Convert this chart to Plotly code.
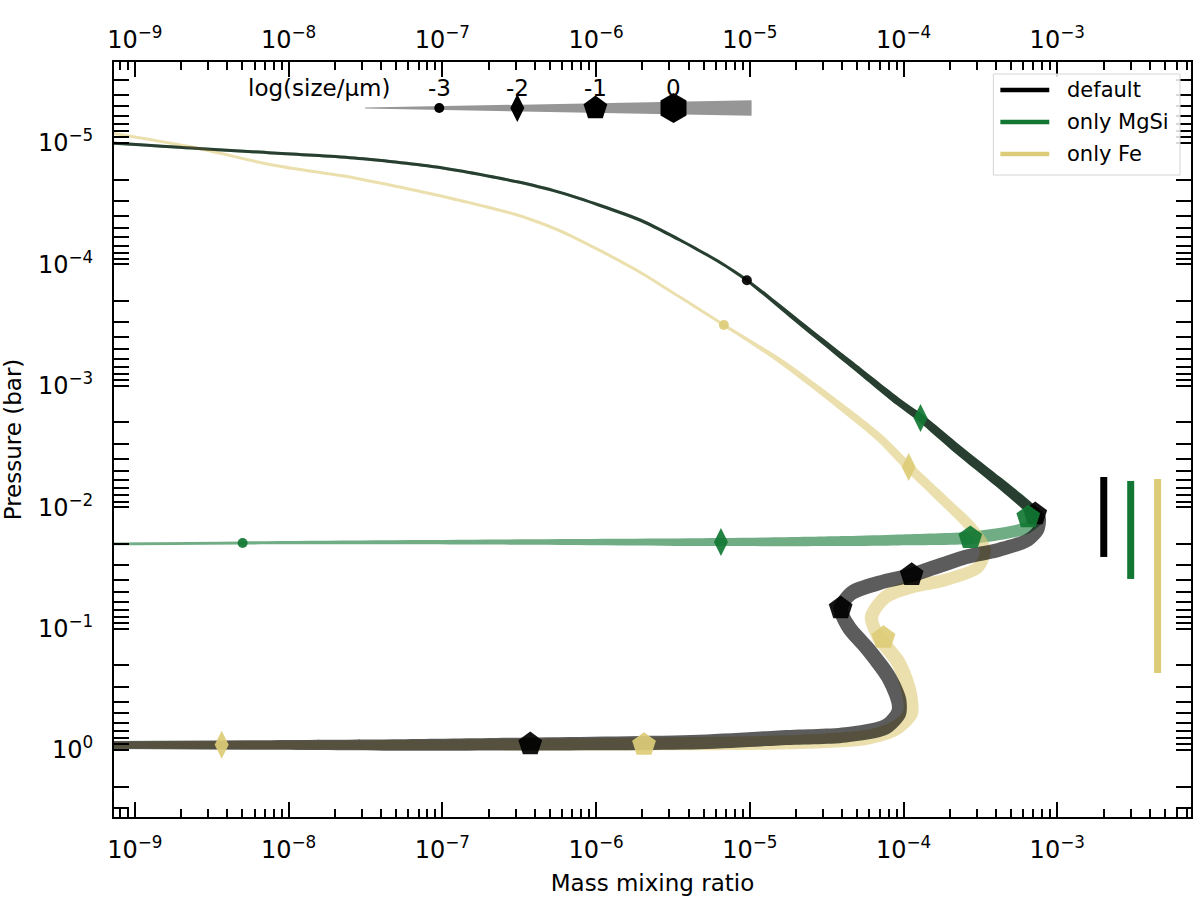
import math
import plotly.graph_objects as go

# Paul Tol muted colours
BLACK = "#000000"
GREEN = "#117733"
SAND = "#DDCC77"
FONT = "DejaVu Sans"

# ---- data: mass mixing ratio, pressure (bar), log10(size/um)
# upper branch, shared by "default" and "only MgSi" (the two overlap there)
UPPER_X = [6.0e-10, 2.34e-9, 7.87e-9, 2.68e-8, 9.14e-8, 3.07e-7, 5.66e-7, 1.04e-6,
           1.93e-6, 3.51e-6, 6.49e-6, 9.57e-6, 2.08e-5, 4.40e-5, 9.29e-5, 1.29e-4,
           2.28e-4, 4.14e-4, 6.48e-4]
UPPER_P = [9.9e-6, 1.10e-5, 1.21e-5, 1.33e-5, 1.58e-5, 2.09e-5, 2.53e-5, 3.24e-5,
           4.31e-5, 6.30e-5, 9.73e-5, 1.35e-4, 2.98e-4, 6.37e-4, 1.36e-3, 1.84e-3,
           3.38e-3, 6.20e-3, 9.95e-3]
UPPER_S = [-4.0, -4.0, -3.9, -3.85, -3.8, -3.7, -3.6, -3.5,
           -3.4, -3.3, -3.15, -3.0, -2.7, -2.45, -2.15, -2.0,
           -1.75, -1.6, -1.45]

DEFAULT_LOWER_X = [7.76e-4, 7.53e-4, 6.48e-4, 4.14e-4, 2.53e-4, 1.69e-4, 1.13e-4, 6.89e-5,
                   4.59e-5, 3.90e-5, 4.40e-5, 5.93e-5, 8.00e-5, 9.29e-5, 9.29e-5, 7.64e-5,
                   4.20e-5, 1.54e-5, 4.67e-6, 3.73e-7, 5.26e-8, 5.58e-9, 6.0e-10]
DEFAULT_LOWER_P = [1.23e-2, 1.54e-2, 1.86e-2, 2.25e-2, 2.57e-2, 3.05e-2, 3.61e-2, 4.21e-2,
                   5.09e-2, 6.77e-2, 9.70e-2, 0.150, 0.251, 0.388, 0.495, 0.646,
                   0.752, 0.796, 0.859, 0.893, 0.910, 0.910, 0.910]
DEFAULT_LOWER_S = [-1.35, -1.2, -1.0, -0.8, -0.7, -0.65, -0.7, -0.7,
                   -0.7, -0.7, -0.65, -0.6, -0.55, -0.5, -0.5, -0.5,
                   -0.55, -0.6, -0.7, -1.0, -1.3, -1.7, -2.0]

MGSI_LOWER_X = [7.53e-4, 6.48e-4, 5.02e-4, 2.72e-4, 9.29e-5, 4.20e-5, 6.49e-6, 2.34e-7,
                5.02e-9, 6.0e-10]
MGSI_LOWER_P = [1.27e-2, 1.46e-2, 1.60e-2, 1.79e-2, 1.86e-2, 1.90e-2, 1.94e-2, 1.94e-2,
                1.97e-2, 2.01e-2]
MGSI_LOWER_S = [-1.35, -1.3, -1.2, -1.1, -1.4, -1.6, -2.0, -2.6, -3.0, -3.3]

FE_X = [6.0e-10, 2.34e-9, 7.87e-9, 2.68e-8, 9.14e-8, 3.07e-7, 5.66e-7, 1.04e-6,
        1.93e-6, 3.51e-6, 6.78e-6, 1.54e-5, 3.26e-5, 6.89e-5, 1.08e-4, 1.87e-4,
        2.77e-4, 3.41e-4, 3.07e-4, 1.87e-4, 1.13e-4, 7.64e-5, 6.19e-5, 6.89e-5,
        9.29e-5, 1.08e-4, 1.11e-4, 8.87e-5, 5.93e-5, 2.08e-5, 2.05e-6, 5.26e-8,
        3.67e-9, 6.0e-10]
FE_P = [8.0e-6, 1.08e-5, 1.52e-5, 1.94e-5, 2.68e-5, 3.92e-5, 5.21e-5, 7.60e-5,
        1.16e-4, 1.86e-4, 3.16e-4, 6.12e-4, 1.24e-3, 2.64e-3, 4.67e-3, 9.06e-3,
        1.48e-2, 2.25e-2, 3.11e-2, 3.98e-2, 4.54e-2, 5.49e-2, 8.02e-2, 0.117,
        0.192, 0.321, 0.495, 0.659, 0.782, 0.859, 0.893, 0.910,
        0.910, 0.910]
FE_S = [-4.0, -4.0, -3.95, -3.9, -3.85, -3.8, -3.7, -3.6,
        -3.45, -3.25, -3.0, -2.6, -2.3, -2.0, -1.8, -1.6,
        -1.45, -1.3, -1.2, -1.1, -1.0, -0.95, -0.9, -0.85,
        -0.7, -0.6, -0.55, -0.55, -0.6, -0.75, -1.0, -1.6,
        -2.0, -2.3]

# markers where the profile passes through a size class
DEFAULT_MK_X = [9.57e-6, 7.19e-4, 1.13e-4, 3.90e-5, 3.73e-7]
DEFAULT_MK_P = [1.35e-4, 1.14e-2, 3.61e-2, 6.77e-2, 0.893]
DEFAULT_MK_S = [-3, -1, -1, -1, -1]
MGSI_MK_X = [1.29e-4, 6.48e-4, 2.72e-4, 6.49e-6, 5.02e-9]
MGSI_MK_P = [1.84e-3, 1.21e-2, 1.79e-2, 1.94e-2, 1.97e-2]
MGSI_MK_S = [-2, -1, -1, -2, -3]
FE_MK_X = [6.78e-6, 1.08e-4, 7.41e-5, 2.05e-6, 3.67e-9]
FE_MK_P = [3.16e-4, 4.67e-3, 0.119, 0.905, 0.905]
FE_MK_S = [-3, -2, -1, -1, -2]

# cloud extent bars on the right (pressure top / bottom)
SERIES_NAMES = ["default", "only MgSi", "only Fe"]
BAR_TOP = [5.64e-3, 6.08e-3, 5.86e-3]
BAR_BOTTOM = [2.57e-2, 3.90e-2, 0.232]

# size legend
SIZE_CLASSES = [-3, -2, -1, 0]
SIZE_LABELS = ["-3", "-2", "-1", "0"]
WEDGE_RANGE = [-3.95, 1.0]

X_TICKS = [1e-9, 1e-8, 1e-7, 1e-6, 1e-5, 1e-4, 1e-3]
X_TICK_LABELS = ["10<sup>−9</sup>", "10<sup>−8</sup>", "10<sup>−7</sup>", "10<sup>−6</sup>",
                 "10<sup>−5</sup>", "10<sup>−4</sup>", "10<sup>−3</sup>"]
Y_TICKS = [1e-5, 1e-4, 1e-3, 1e-2, 1e-1, 1e0]
Y_TICK_LABELS = ["10<sup>−5</sup>", "10<sup>−4</sup>", "10<sup>−3</sup>", "10<sup>−2</sup>",
                 "10<sup>−1</sup>", "10<sup>0</sup>"]

SYMBOL = {-3: "circle", -2: "diamond-tall", -1: "pentagon", 0: "hexagon"}
MSIZE = {-3: 10, -2: 20, -1: 25, 0: 30}

# figure geometry (needed to give the profiles a width in pixels)
W, H = 1200, 913
MARGIN = dict(l=114, r=7, t=62, b=96)
X_RANGE = [-9.136, -2.13]
Y_RANGE = [0.552, -5.667]          # reversed: high pressure at the bottom
PW = W - MARGIN["l"] - MARGIN["r"]
PH = H - MARGIN["t"] - MARGIN["b"]


def rgba(hexcol, a):
    h = hexcol.lstrip("#")
    r, g, b = int(h[0:2], 16), int(h[2:4], 16), int(h[4:6], 16)
    return f"rgba({r},{g},{b},{a})"


def seg_width(s):
    return max(3.0, 3.0 + 5.0 * (s + 3.0))


def to_px(x, p):
    u = (math.log10(x) - X_RANGE[0]) / (X_RANGE[1] - X_RANGE[0]) * PW
    v = (math.log10(p) - Y_RANGE[1]) / (Y_RANGE[0] - Y_RANGE[1]) * PH
    return u, v


def from_px(u, v):
    x = 10 ** (X_RANGE[0] + u / PW * (X_RANGE[1] - X_RANGE[0]))
    p = 10 ** (Y_RANGE[1] + v / PH * (Y_RANGE[0] - Y_RANGE[1]))
    return x, p


def add_profile(fig, xs, ps, ss, colour, alpha=0.6):
    # variable-width line: two smooth edges, filled between them
    pts = [to_px(x, p) for x, p in zip(xs, ps)]
    n = len(pts)
    left, right = [], []
    for i in range(n):
        a = pts[max(i - 1, 0)]
        b = pts[min(i + 1, n - 1)]
        dx, dy = b[0] - a[0], b[1] - a[1]
        d = math.hypot(dx, dy)
        nx, ny = -dy / d, dx / d
        h = seg_width(ss[i]) / 2
        left.append(from_px(pts[i][0] + nx * h, pts[i][1] + ny * h))
        right.append(from_px(pts[i][0] - nx * h, pts[i][1] - ny * h))
    for k, edge in enumerate([left, right]):
        fig.add_trace(go.Scatter(
            x=[q[0] for q in edge], y=[q[1] for q in edge], mode="lines",
            fill="tonext" if k else "none", fillcolor=rgba(colour, alpha),
            line=dict(width=0, shape="spline", smoothing=0.8),
            showlegend=False, hoverinfo="skip",
        ))


def add_markers(fig, xs, ps, ss, colour, opacity=0.92, xaxis="x", yaxis="y"):
    fig.add_trace(go.Scatter(
        x=xs, y=ps, mode="markers", xaxis=xaxis, yaxis=yaxis,
        marker=dict(symbol=[SYMBOL[s] for s in ss], size=[MSIZE[s] for s in ss],
                    color=colour, opacity=opacity, line=dict(width=0)),
        showlegend=False, hoverinfo="skip",
    ))


fig = go.Figure()

add_profile(fig, UPPER_X + MGSI_LOWER_X, UPPER_P + MGSI_LOWER_P, UPPER_S + MGSI_LOWER_S, GREEN)
add_profile(fig, FE_X, FE_P, FE_S, SAND)
add_profile(fig, UPPER_X + DEFAULT_LOWER_X, UPPER_P + DEFAULT_LOWER_P,
            UPPER_S + DEFAULT_LOWER_S, BLACK, alpha=0.64)

add_markers(fig, DEFAULT_MK_X, DEFAULT_MK_P, DEFAULT_MK_S, BLACK)
add_markers(fig, MGSI_MK_X, MGSI_MK_P, MGSI_MK_S, GREEN)
add_markers(fig, FE_MK_X, FE_MK_P, FE_MK_S, SAND)

# cloud extent bars (x in axes fraction via overlay axis x3)
colours = [BLACK, GREEN, SAND]
bar_pos = [0.919, 0.944, 0.969]
for i in range(len(SERIES_NAMES)):
    fig.add_trace(go.Scatter(
        x=[bar_pos[i], bar_pos[i]], y=[BAR_TOP[i], BAR_BOTTOM[i]], mode="lines",
        line=dict(color=colours[i], width=7), xaxis="x3", yaxis="y",
        showlegend=False, hoverinfo="skip",
    ))


# size legend: grey wedge plus one marker per size class (axes fraction, x3/y3)
def leg_x(s):
    return 0.302 + 0.0725 * (s + 3)


yc = 0.939
h0 = 0.5 * 1.0 / PH
h1 = 0.5 * 15.5 / PH
w0, w1 = WEDGE_RANGE
fig.add_trace(go.Scatter(
    x=[leg_x(w0), leg_x(w1), leg_x(w1), leg_x(w0)],
    y=[yc + h0, yc + h1, yc - h1, yc - h0],
    fill="toself", fillcolor="#969696", mode="lines", line=dict(width=0),
    xaxis="x3", yaxis="y3", showlegend=False, hoverinfo="skip",
))
add_markers(fig, [leg_x(s) for s in SIZE_CLASSES], [yc] * len(SIZE_CLASSES),
            SIZE_CLASSES, BLACK, opacity=1.0, xaxis="x3", yaxis="y3")

# keeps the top x axis alive
fig.add_trace(go.Scatter(x=[None], y=[None], xaxis="x2", showlegend=False, hoverinfo="skip"))

annotations = [dict(text="log(size/μm)", x=0.258, y=0.966, xref="paper", yref="paper",
                    xanchor="right", yanchor="middle", showarrow=False,
                    font=dict(size=23, color="black"))]
for s, lab in zip(SIZE_CLASSES, SIZE_LABELS):
    annotations.append(dict(text=lab, x=leg_x(s), y=0.966, xref="paper", yref="paper",
                            xanchor="center", yanchor="middle", showarrow=False,
                            font=dict(size=23, color="black")))

# hand-drawn legend box (matplotlib style: long line handles)
shapes = [dict(type="rect", xref="paper", yref="paper", x0=0.8165, x1=0.9898,
               y0=0.8503, y1=0.9841, line=dict(color="#d5d5d5", width=1),
               fillcolor="rgba(255,255,255,0.85)", layer="above")]
row_y = [0.9629, 0.9205, 0.8781]
for name, col, ry in zip(SERIES_NAMES, colours, row_y):
    shapes.append(dict(type="line", xref="paper", yref="paper", x0=0.823, x1=0.8684,
                       y0=ry, y1=ry, line=dict(color=col, width=4.5), layer="above"))
    annotations.append(dict(text=name, x=0.8832, y=ry, xref="paper", yref="paper",
                            xanchor="left", yanchor="middle", showarrow=False,
                            font=dict(size=21, color="black")))

minor_vals = [m * 10.0 ** k for k in range(-11, 2) for m in range(2, 10)]
axis_common = dict(
    type="log", showgrid=False, zeroline=False, ticks="inside", ticklen=15, tickwidth=2,
    tickcolor="black", tickfont=dict(size=24, color="black"),
)
minor_ticks = dict(ticks="inside", ticklen=8, tickwidth=1.5, tickcolor="black",
                   tickmode="array", tickvals=minor_vals, showgrid=False)

fig.update_layout(
    width=W, height=H,
    margin=MARGIN,
    plot_bgcolor="white", paper_bgcolor="white",
    font=dict(family=FONT, color="black"),
    xaxis=dict(
        **axis_common, range=X_RANGE, tickmode="array", tickvals=X_TICKS,
        ticktext=X_TICK_LABELS, showline=True, linewidth=2, linecolor="black",
        mirror="allticks", ticklabelstandoff=10, minor=minor_ticks,
        title=dict(text="Mass mixing ratio", font=dict(size=23), standoff=12),
    ),
    xaxis2=dict(
        type="log", range=X_RANGE, overlaying="x", side="top", tickmode="array",
        tickvals=X_TICKS, ticktext=X_TICK_LABELS, ticks="", showgrid=False,
        zeroline=False, showline=False, tickfont=dict(size=24, color="black"),
        ticklabelstandoff=8,
    ),
    xaxis3=dict(range=[0, 1], overlaying="x", visible=False, fixedrange=True),
    yaxis=dict(
        **axis_common, range=Y_RANGE, tickmode="array", tickvals=Y_TICKS,
        ticktext=Y_TICK_LABELS, showline=True, linewidth=2, linecolor="black",
        mirror="allticks", ticklabelstandoff=14, minor=minor_ticks,
        title=dict(text="Pressure (bar)", font=dict(size=23), standoff=12),
    ),
    yaxis3=dict(range=[0, 1], overlaying="y", visible=False, fixedrange=True),
    annotations=annotations,
    shapes=shapes,
    showlegend=False,
)

fig.write_html("out.html", config={"displayModeBar": False},
               post_script="document.body.style.margin = '0px';")
